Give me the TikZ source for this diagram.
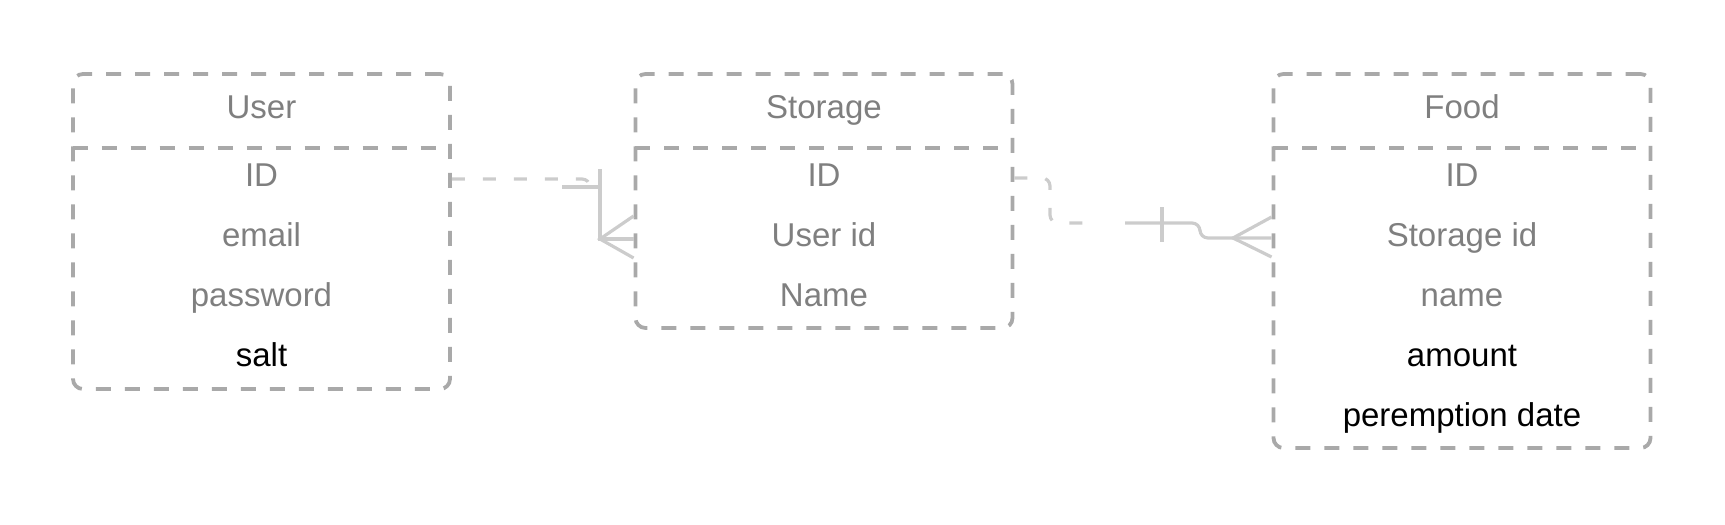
\documentclass[tikz,border=0pt]{standalone}
\usepackage{fontspec}
\setmainfont{Liberation Sans}
\definecolor{boxgray}{HTML}{A9A9A9}
\definecolor{linkgray}{HTML}{CCCCCC}
\definecolor{textgray}{HTML}{7F7F7F}
\tikzset{
	entity/.style={draw=boxgray, line width=1.9pt, dash pattern=on 7.5pt off 7pt, rounded corners=5pt, minimum width=188.5pt, inner sep=0pt},
	headline/.style={draw=boxgray, line width=1.9pt, dash pattern=on 7.5pt off 7pt},
	head/.style={text=textgray, font=\fontsize{16.5}{19}\selectfont, minimum width=188.5pt, minimum height=37.5pt, inner sep=0pt, text height=11.8pt, text depth=3.5pt},
	field/.style={text=textgray, font=\fontsize{16.5}{19}\selectfont, inner sep=0pt, text height=11.8pt, text depth=0pt},
	newfield/.style={field, text=black},
	link/.style={draw=linkgray, line width=1.6pt},
	linkdash/.style={link, dash pattern=on 6.5pt off 9pt, rounded corners=4pt}
}
\begin{document}
\begin{tikzpicture}[x=0.5pt, y=-0.5pt]
	\useasboundingbox (0,0) rectangle (1725,525);
	
	% User
	\node[entity, minimum height=157.5pt] (user) at (261.5,231.5) {};
	\node[head, anchor=north] (userhead) at (user.north) {User};
	\draw[headline] (userhead.south west) -- (userhead.south east);
	\node[field] (uid) at (261.5,175) {ID};
	\node[field] (uemail) at (261.5,235) {email};
	\node[field] (upass) at (261.5,295) {password};
	\node[newfield] (usalt) at (261.5,355) {salt};
	
	% Storage
	\node[entity, minimum height=127pt] (storage) at (824,201) {};
	\node[head, anchor=north] (storagehead) at (storage.north) {Storage};
	\draw[headline] (storagehead.south west) -- (storagehead.south east);
	\node[field] (sid) at (824,175) {ID};
	\node[field] (suser) at (824,235) {User id};
	\node[field] (sname) at (824,295) {Name};
	
	% Food
	\node[entity, minimum height=187pt] (food) at (1462,261) {};
	\node[head, anchor=north] (foodhead) at (food.north) {Food};
	\draw[headline] (foodhead.south west) -- (foodhead.south east);
	\node[field] (fid) at (1462,175) {ID};
	\node[field] (fstorage) at (1462,235) {Storage id};
	\node[field] (fname) at (1462,295) {name};
	\node[newfield] (famount) at (1462,355) {amount};
	\node[newfield] (fdate) at (1462,415) {peremption date};
	
	% User -- Storage
	\draw[linkdash] ([yshift=-2pt]user.east |- uid) -- (590,179) -- (590,187);
	\draw[link] (562,187) -- (600,187) (600,169) -- (600,239) -- ([yshift=-2pt]storage.west |- suser);
	\draw[link] ([yshift=9.5pt]storage.west |- suser) -- (600,239) -- ([yshift=-11.5pt]storage.west |- suser);
	
	% Storage -- Food
	\draw[linkdash] ([yshift=-1.5pt]storage.east |- sid) -- (1050,178) -- (1050,223) -- (1087,223);
	\draw[link, rounded corners=4pt] (1125,223) -- (1200,223) -- (1200,238) -- ([yshift=-1.5pt]food.west |- fstorage);
	\draw[link] (1162,207) -- (1162,242);
	\draw[link] ([yshift=9pt]food.west |- fstorage) -- (1233,238) -- ([yshift=-11pt]food.west |- fstorage);
\end{tikzpicture}
\end{document}
